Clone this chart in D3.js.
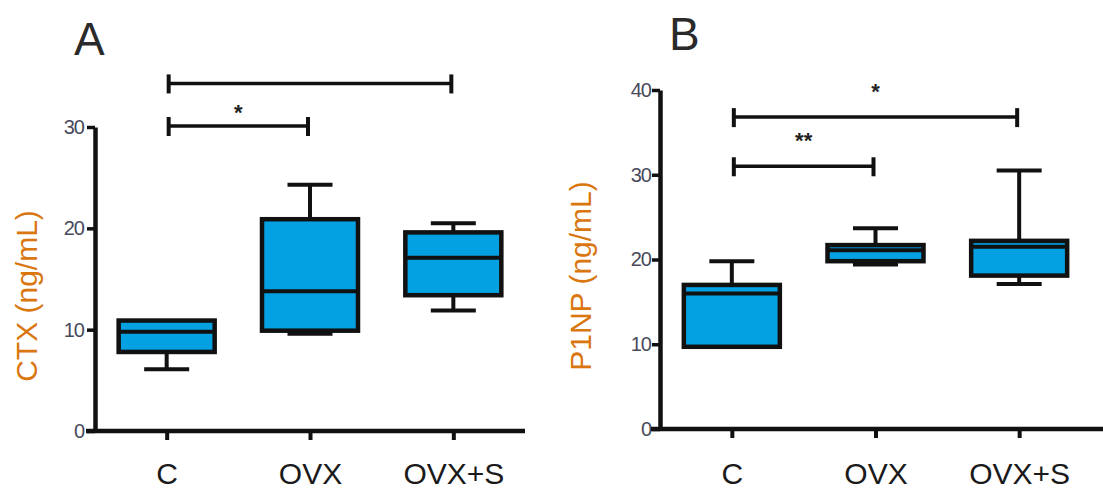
<!DOCTYPE html>
<html>
<head>
<meta charset="utf-8">
<script src="https://cdn.jsdelivr.net/npm/d3@7"></script>
<style>
  html, body { margin: 0; padding: 0; background: #fff; }
  svg { display: block; font-family: "Liberation Sans", Arial, sans-serif; }
</style>
</head>
<body>
<svg id="chart" width="1103" height="490"></svg>
<script>
// ---------- data ----------
const categories = ["C", "OVX", "OVX+S"];

// Panel A: CTX (ng/mL) five-number summaries [min, q1, median, q3, max]
const ctxMin    = [6.1, 9.6, 11.9];
const ctxQ1     = [7.8, 9.9, 13.4];
const ctxMedian = [9.8, 13.8, 17.1];
const ctxQ3     = [10.9, 20.9, 19.6];
const ctxMax    = [10.9, 24.3, 20.5];
const ctxTicks  = [0, 10, 20, 30];
const ctxSig    = [
  { from: "C", to: "OVX+S", level: 34.3, label: "" },
  { from: "C", to: "OVX",   level: 30.1, label: "*" }
];

// Panel B: P1NP (ng/mL)
const p1npMin    = [9.7, 19.4, 17.1];
const p1npQ1     = [9.7, 19.8, 18.1];
const p1npMedian = [16.0, 21.1, 21.5];
const p1npQ3     = [17.0, 21.7, 22.2];
const p1npMax    = [19.8, 23.7, 30.5];
const p1npTicks  = [0, 10, 20, 30, 40];
const p1npSig    = [
  { from: "C", to: "OVX+S", level: 36.8, label: "*" },
  { from: "C", to: "OVX",   level: 31.0, label: "**" }
];

// ---------- drawing ----------
const svg = d3.select("#chart");
const BOX_FILL = "#03a0e2";
const LABEL_COL = "#d9760f";
const TICK_COL = "#484a5c";

function panel(opt) {
  const g = svg.append("g");
  const x = d3.scalePoint().domain(categories).range(opt.xRange).padding(0.5);
  const y = d3.scaleLinear().domain(opt.yDomain).range(opt.yRange);

  // y axis
  const yAxis = g.append("g")
    .attr("transform", `translate(${opt.xRange[0]},0)`)
    .call(d3.axisLeft(y).tickValues(opt.ticks).tickSize(8).tickPadding(opt.tickPad).tickSizeOuter(0));
  yAxis.select(".domain").attr("stroke", "#111").attr("stroke-width", 4.5);
  yAxis.selectAll(".tick line").attr("stroke", "#111").attr("stroke-width", 3.5);
  yAxis.selectAll(".tick text").attr("fill", TICK_COL).attr("font-size", 20)
    .attr("font-family", "Liberation Sans, Arial, sans-serif").attr("letter-spacing", -1);

  // x axis
  const xAxis = g.append("g")
    .attr("transform", `translate(0,${opt.yRange[0]})`)
    .call(d3.axisBottom(x).tickSize(9).tickPadding(opt.xLabPad));
  xAxis.select(".domain").remove();
  xAxis.selectAll(".tick line").attr("stroke", "#111").attr("stroke-width", 4);
  xAxis.selectAll(".tick text").attr("fill", "#1a1a1a").attr("font-size", 30)
    .attr("font-family", "Liberation Sans, Arial, sans-serif");
  g.append("line")
    .attr("x1", opt.xRange[0] - 9).attr("x2", opt.xLineEnd)
    .attr("y1", opt.yRange[0]).attr("y2", opt.yRange[0])
    .attr("stroke", "#111").attr("stroke-width", 4.5);

  // axis title
  g.append("text")
    .attr("transform", `translate(${opt.titleX},${opt.titleY}) rotate(-90)`)
    .attr("text-anchor", "middle")
    .attr("font-size", 30)
    .attr("fill", LABEL_COL)
    .text(opt.title);

  // panel letter
  g.append("text")
    .attr("x", opt.letterX).attr("y", opt.letterY)
    .attr("font-size", 46).attr("fill", "#2a2a2a")
    .text(opt.letter);

  const boxW = 96, capW = 45;
  const rows = categories.map((c, i) => ({
    c, min: opt.min[i], q1: opt.q1[i], med: opt.med[i], q3: opt.q3[i], max: opt.max[i]
  }));

  const bg = g.selectAll(".bx").data(rows).enter().append("g");
  // whiskers
  bg.append("line")
    .attr("x1", d => x(d.c)).attr("x2", d => x(d.c))
    .attr("y1", d => y(d.q3)).attr("y2", d => y(d.max))
    .attr("stroke", "#111").attr("stroke-width", 4);
  bg.append("line")
    .attr("x1", d => x(d.c)).attr("x2", d => x(d.c))
    .attr("y1", d => y(d.q1)).attr("y2", d => y(d.min))
    .attr("stroke", "#111").attr("stroke-width", 4);
  bg.filter(d => d.max > d.q3).append("line")
    .attr("x1", d => x(d.c) - capW / 2).attr("x2", d => x(d.c) + capW / 2)
    .attr("y1", d => y(d.max)).attr("y2", d => y(d.max))
    .attr("stroke", "#111").attr("stroke-width", 4);
  bg.filter(d => d.min < d.q1).append("line")
    .attr("x1", d => x(d.c) - capW / 2).attr("x2", d => x(d.c) + capW / 2)
    .attr("y1", d => y(d.min)).attr("y2", d => y(d.min))
    .attr("stroke", "#111").attr("stroke-width", 4);
  // box
  bg.append("rect")
    .attr("x", d => x(d.c) - boxW / 2).attr("width", boxW)
    .attr("y", d => y(d.q3)).attr("height", d => y(d.q1) - y(d.q3))
    .attr("fill", BOX_FILL).attr("stroke", "#111").attr("stroke-width", 4.5);
  // median
  bg.append("line")
    .attr("x1", d => x(d.c) - boxW / 2).attr("x2", d => x(d.c) + boxW / 2)
    .attr("y1", d => y(d.med)).attr("y2", d => y(d.med))
    .attr("stroke", "#111").attr("stroke-width", 4);

  // significance brackets
  const sg = g.selectAll(".sig").data(opt.sig).enter().append("g");
  sg.append("line")
    .attr("x1", d => x(d.from) + 2).attr("x2", d => x(d.to) - 2)
    .attr("y1", d => y(d.level)).attr("y2", d => y(d.level))
    .attr("stroke", "#111").attr("stroke-width", 3.5);
  sg.append("line")
    .attr("x1", d => x(d.from) + 2).attr("x2", d => x(d.from) + 2)
    .attr("y1", d => y(d.level) - 9).attr("y2", d => y(d.level) + 10)
    .attr("stroke", "#111").attr("stroke-width", 4);
  sg.append("line")
    .attr("x1", d => x(d.to) - 2).attr("x2", d => x(d.to) - 2)
    .attr("y1", d => y(d.level) - 9).attr("y2", d => y(d.level) + 10)
    .attr("stroke", "#111").attr("stroke-width", 4);
  sg.append("text")
    .attr("x", d => (x(d.from) + x(d.to)) / 2)
    .attr("y", d => y(d.level) - 8)
    .attr("text-anchor", "middle")
    .attr("font-size", 22).attr("font-weight", "bold").attr("fill", "#222")
    .attr("dy", opt.starDy)
    .text(d => d.label);
}

panel({
  xRange: [95, 525], xLineEnd: 525, xLabPad: 23,
  yDomain: [0, 30], yRange: [431, 127],
  ticks: ctxTicks, tickPad: 3,
  min: ctxMin, q1: ctxQ1, med: ctxMedian, q3: ctxQ3, max: ctxMax,
  sig: ctxSig, starDy: 2,
  title: "CTX (ng/mL)", titleX: 37, titleY: 296,
  letter: "A", letterX: 74, letterY: 55
});

panel({
  xRange: [660, 1091], xLineEnd: 1103, xLabPad: 25,
  yDomain: [0, 40], yRange: [429, 90],
  ticks: p1npTicks, tickPad: 1,
  min: p1npMin, q1: p1npQ1, med: p1npMedian, q3: p1npQ3, max: p1npMax,
  sig: p1npSig, starDy: -10,
  title: "P1NP (ng/mL)", titleX: 591, titleY: 276,
  letter: "B", letterX: 669, letterY: 50
});
</script>
</body>
</html>
